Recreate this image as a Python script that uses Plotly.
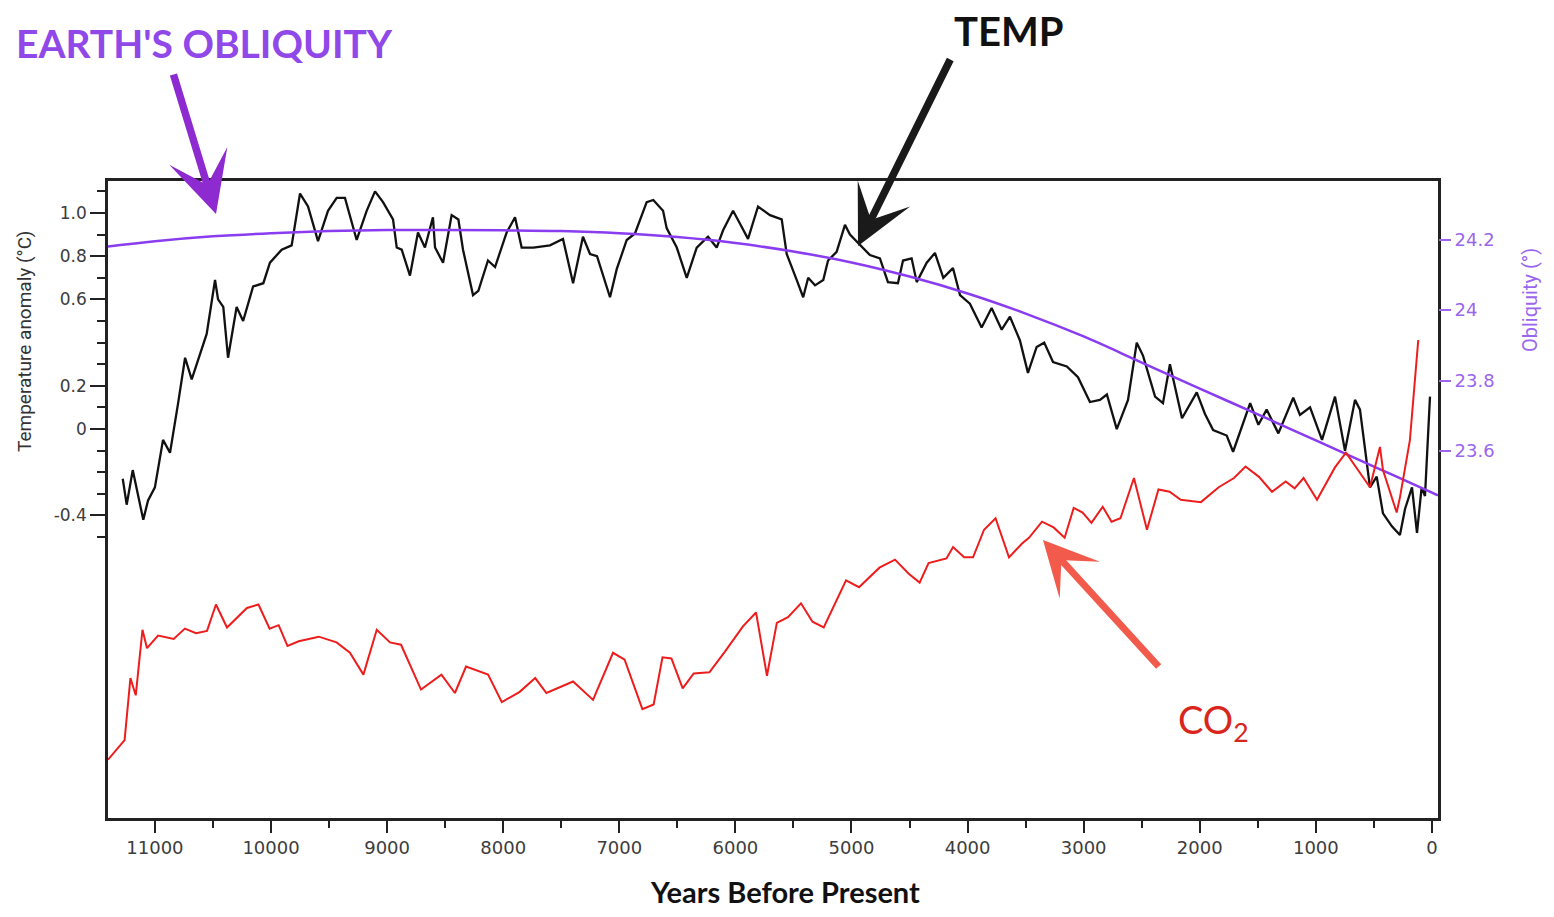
import plotly.graph_objects as go

# ---------------- data ----------------
temp_years = [11277, 11243, 11191, 11157, 11100, 11059, 11000, 10930, 10870, 10800,
              10740, 10683, 10554, 10482, 10456, 10411, 10370, 10296, 10240, 10154,
              10066, 10009, 9908, 9822, 9750, 9681, 9595, 9509, 9434, 9363,
              9262, 9176, 9104, 9035, 8949, 8917, 8874, 8803, 8734, 8674,
              8605, 8587, 8518, 8444, 8386, 8346, 8260, 8214, 8131, 8070,
              7970, 7898, 7841, 7740, 7597, 7485, 7398, 7313, 7252, 7192,
              7080, 7022, 6936, 6865, 6764, 6707, 6623, 6592, 6505, 6419,
              6333, 6236, 6161, 6106, 6020, 5960, 5891, 5805, 5702, 5601,
              5558, 5472, 5416, 5373, 5314, 5243, 5202, 5128, 5056, 5013,
              4927, 4841, 4755, 4686, 4600, 4556, 4482, 4438, 4352, 4281,
              4209, 4126, 4065, 3980, 3879, 3793, 3706, 3635, 3549, 3480,
              3405, 3340, 3264, 3145, 3049, 2946, 2860, 2800, 2715, 2618,
              2543, 2489, 2385, 2317, 2257, 2153, 2026, 1955, 1885, 1768,
              1713, 1566, 1495, 1424, 1323, 1195, 1137, 1050, 947, 835,
              749, 663, 620, 534, 476, 422, 345, 276, 232, 172,
              129, 89, 60, 17]
temp_anomaly = [-0.23, -0.35, -0.19, -0.28, -0.42, -0.33, -0.27, -0.05, -0.11, 0.12,
                0.33, 0.23, 0.44, 0.69, 0.60, 0.565, 0.33, 0.565, 0.50, 0.66,
                0.675, 0.77, 0.83, 0.85, 1.09, 1.03, 0.87, 1.01, 1.07, 1.07,
                0.875, 1.01, 1.10, 1.05, 0.97, 0.84, 0.83, 0.71, 0.91, 0.84,
                0.98, 0.84, 0.77, 0.99, 0.97, 0.83, 0.62, 0.64, 0.78, 0.75,
                0.91, 0.98, 0.84, 0.84, 0.85, 0.88, 0.675, 0.89, 0.81, 0.80,
                0.61, 0.74, 0.875, 0.905, 1.05, 1.06, 1.01, 0.93, 0.84, 0.70,
                0.84, 0.89, 0.84, 0.92, 1.01, 0.95, 0.88, 1.03, 0.99, 0.97,
                0.81, 0.69, 0.61, 0.70, 0.665, 0.69, 0.78, 0.82, 0.945, 0.90,
                0.85, 0.805, 0.79, 0.68, 0.675, 0.78, 0.79, 0.68, 0.77, 0.815,
                0.70, 0.745, 0.62, 0.58, 0.47, 0.56, 0.46, 0.52, 0.41, 0.26,
                0.38, 0.40, 0.31, 0.29, 0.24, 0.125, 0.135, 0.16, 0.00, 0.135,
                0.40, 0.34, 0.15, 0.12, 0.30, 0.05, 0.17, 0.07, -0.005, -0.03,
                -0.105, 0.12, 0.02, 0.09, -0.02, 0.145, 0.065, 0.10, -0.05, 0.15,
                -0.10, 0.135, 0.09, -0.27, -0.22, -0.39, -0.45, -0.49, -0.37, -0.27,
                -0.48, -0.27, -0.31, 0.15]

co2_years = [11404, 11261, 11211, 11165, 11107, 11068, 10973, 10838, 10742, 10646,
             10551, 10474, 10379, 10207, 10108, 10012, 9934, 9858, 9761, 9589,
             9435, 9320, 9204, 9089, 8975, 8880, 8708, 8532, 8416, 8320,
             8130, 8012, 7858, 7724, 7628, 7398, 7226, 7054, 6954, 6801,
             6704, 6628, 6551, 6454, 6359, 6224, 6090, 5935, 5822, 5728,
             5643, 5547, 5435, 5336, 5239, 5047, 4935, 4759, 4625, 4509,
             4413, 4336, 4182, 4125, 4030, 3953, 3858, 3759, 3643, 3531,
             3471, 3359, 3259, 3164, 3086, 3009, 2933, 2836, 2760, 2683,
             2567, 2455, 2356, 2260, 2164, 1990, 1837, 1705, 1606, 1490,
             1378, 1260, 1183, 1106, 990, 837, 741, 534, 448, 422,
             304, 276, 190, 146, 118]
co2_ppm = [255.5, 257.2, 262.6, 261.1, 266.8, 265.2, 266.3, 266.0, 266.9, 266.5,
           266.7, 269.0, 267.0, 268.7, 269.0, 266.9, 267.2, 265.4, 265.8, 266.2,
           265.7, 264.8, 262.9, 266.8, 265.7, 265.5, 261.6, 262.9, 261.3, 263.6,
           262.9, 260.5, 261.4, 262.6, 261.3, 262.3, 260.7, 264.8, 264.2, 259.9,
           260.3, 264.4, 264.3, 261.7, 263.0, 263.1, 264.9, 267.1, 268.3, 262.8,
           267.4, 267.9, 269.1, 267.5, 267.0, 271.1, 270.5, 272.2, 272.9, 271.7,
           270.9, 272.6, 273.0, 274.0, 273.1, 273.1, 275.5, 276.5, 273.1, 274.3,
           274.8, 276.2, 275.7, 274.8, 277.4, 277.0, 276.1, 277.5, 276.2, 276.5,
           280.0, 275.5, 279.0, 278.8, 278.1, 277.9, 279.2, 280.0, 281.0, 280.1,
           278.8, 279.7, 279.1, 280.0, 278.1, 280.9, 282.2, 279.2, 282.7, 280.7,
           277.0, 278.3, 283.3, 288.3, 292.0]

obl_years = [11404, 11000, 10500, 10000, 9500, 9000, 8500, 8000, 7500, 7000,
             6500, 6000, 5500, 5000, 4500, 4000, 3500, 3000, 2500, 2000,
             1500, 1000, 500, 0, -52]
obl_deg = [24.180, 24.195, 24.209, 24.218, 24.224, 24.227, 24.227, 24.226, 24.224, 24.218,
           24.207, 24.190, 24.166, 24.135, 24.095, 24.047, 23.990, 23.925, 23.851, 23.777,
           23.704, 23.630, 23.556, 23.482, 23.474]

x_tick_vals = [11000, 10000, 9000, 8000, 7000, 6000, 5000, 4000, 3000, 2000, 1000, 0]
temp_tick_vals = [1.0, 0.8, 0.6, 0.2, 0.0, -0.4]
temp_tick_text = ["1.0", "0.8", "0.6", "0.2", "0", "-0.4"]
temp_minor_vals = [1.1, 0.9, 0.7, 0.5, 0.4, 0.3, 0.1, -0.1, -0.2, -0.3, -0.5]
obl_tick_vals = [24.2, 24.0, 23.8, 23.6]
obl_tick_text = ["24.2", "24", "23.8", "23.6"]

# ---------------- styling ----------------
PURPLE_LINE = "#8A3CF0"
PURPLE_TEXT = "#9048E8"
PURPLE_ARROW = "#8E2BD0"
PURPLE_TICK = "#9A66EE"
RED_LINE = "#EE1D1D"
TICK_FAMILY = "DejaVu Sans, Open Sans, sans-serif"

# page body has an 8px margin: figure is 1538x901 placed at (8, 8)
W, H = 1538, 901
OFF = 8
PL, PR, PT, PB = 108, 1438, 181, 818   # plot frame in window pixels


def px(xw):
    return (xw - PL) / (PR - PL)


def py(yw):
    return (PB - yw) / (PB - PT)


fig = go.Figure()
fig.add_trace(go.Scatter(x=co2_years, y=co2_ppm, mode="lines", yaxis="y3",
                         line=dict(color=RED_LINE, width=2), name="CO2"))
fig.add_trace(go.Scatter(x=obl_years, y=obl_deg, mode="lines", yaxis="y2",
                         line=dict(color=PURPLE_LINE, width=2.5, shape="spline"),
                         name="Obliquity"))
fig.add_trace(go.Scatter(x=temp_years, y=temp_anomaly, mode="lines", yaxis="y",
                         line=dict(color="#111111", width=2.3), name="Temp"))

fig.update_layout(
    width=W, height=H,
    margin=dict(l=PL - OFF, r=W + OFF - PR, t=PT - OFF, b=H + OFF - PB, pad=0),
    paper_bgcolor="white", plot_bgcolor="white",
    showlegend=False,
    xaxis=dict(range=[11404, -52], showgrid=False, zeroline=False,
               showline=True, linecolor="#222", linewidth=2.5, mirror=True,
               tickmode="array", tickvals=x_tick_vals, tickformat="d",
               ticks="outside", ticklen=12, tickwidth=2, tickcolor="#222",
               minor=dict(dtick=500, tick0=0, ticks="outside", ticklen=7,
                          tickwidth=2, tickcolor="#222", showgrid=False),
               tickfont=dict(family=TICK_FAMILY, size=18, color="#3c3c3c")),
    yaxis=dict(range=[-1.80, 1.148], showgrid=False, zeroline=False,
               showline=True, linecolor="#222", linewidth=2.5, mirror=True,
               tickmode="array", tickvals=temp_tick_vals, ticktext=temp_tick_text,
               ticks="outside", ticklen=15, tickwidth=2, tickcolor="#222",
               minor=dict(tickmode="array", tickvals=temp_minor_vals, ticks="outside",
                          ticklen=8, tickwidth=2, tickcolor="#222", showgrid=False),
               tickfont=dict(family=TICK_FAMILY, size=17, color="#3c3c3c")),
    yaxis2=dict(range=[22.559, 24.366], overlaying="y", side="right",
                showgrid=False, zeroline=False, showline=False,
                tickmode="array", tickvals=obl_tick_vals, ticktext=obl_tick_text,
                ticks="outside", ticklen=12, tickwidth=2, tickcolor=PURPLE_TICK,
                tickfont=dict(family=TICK_FAMILY, size=18, color=PURPLE_TICK)),
    yaxis3=dict(range=[250.43, 305.83], overlaying="y", visible=False),
)

ann = []
# text labels
ann.append(dict(text="<b>EARTH'S OBLIQUITY</b>", xref="paper", yref="paper",
                x=px(204.5), y=py(43), showarrow=False,
                xanchor="center", yanchor="middle",
                font=dict(family="Lato, sans-serif", size=39, color=PURPLE_TEXT)))
ann.append(dict(text="<b>TEMP</b>", xref="paper", yref="paper",
                x=px(1009), y=py(31), showarrow=False,
                xanchor="center", yanchor="middle",
                font=dict(family="Lato, sans-serif", size=40, color="#111")))
ann.append(dict(text="CO<sub>2</sub>", xref="paper", yref="paper",
                x=px(1213), y=py(722), showarrow=False,
                xanchor="center", yanchor="middle",
                font=dict(family="Lato, sans-serif", size=38, color="#D9261C")))
ann.append(dict(text="<b>Years Before Present</b>", xref="paper", yref="paper",
                x=px(785), y=py(891), showarrow=False,
                xanchor="center", yanchor="middle",
                font=dict(family="Lato, sans-serif", size=29, color="#111")))
ann.append(dict(text="Temperature anomaly (°C)", xref="paper", yref="paper",
                x=px(24), y=py(342), showarrow=False,
                textangle=-90, xanchor="center", yanchor="middle",
                font=dict(family="Liberation Sans Narrow, Roboto, sans-serif", size=19, color="#333")))
ann.append(dict(text="Obliquity (°)", xref="paper", yref="paper",
                x=px(1530), y=py(300), showarrow=False,
                textangle=-90, xanchor="center", yanchor="middle",
                font=dict(family="Liberation Sans Narrow, Roboto, sans-serif", size=20, color=PURPLE_TICK)))
# arrows
ann.append(dict(text="", xref="paper", yref="paper",
                x=px(216), y=py(214), ax=-43, ay=-141,
                showarrow=True, arrowhead=3, arrowwidth=7.5, arrowsize=1.35,
                arrowcolor=PURPLE_ARROW))
ann.append(dict(text="", xref="paper", yref="paper",
                x=px(858), y=py(246), ax=93, ay=-188,
                showarrow=True, arrowhead=3, arrowwidth=7.5, arrowsize=1.3,
                arrowcolor="#1a1a1a"))
ann.append(dict(text="", xref="paper", yref="paper",
                x=px(1043), y=py(540), ax=117, ay=128,
                showarrow=True, arrowhead=3, arrowwidth=7, arrowsize=1.3,
                arrowcolor="#F25A4B"))
fig.update_layout(annotations=ann)

fig.write_html("out.html")
